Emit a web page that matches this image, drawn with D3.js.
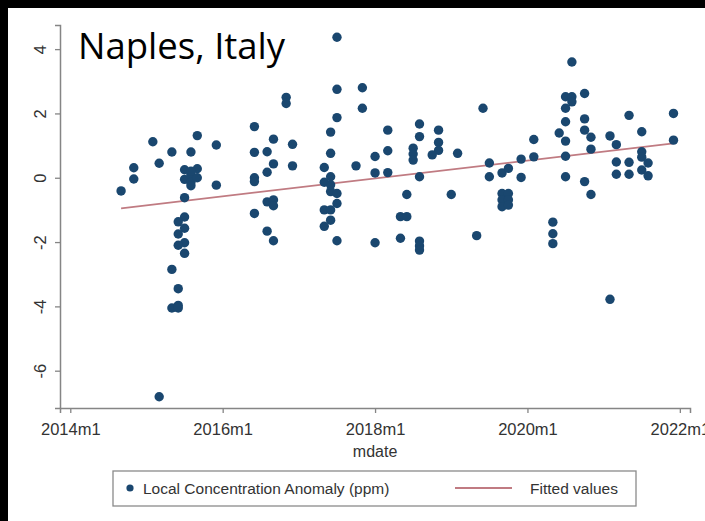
<!DOCTYPE html>
<html>
<head>
<meta charset="utf-8">
<script src="https://cdn.jsdelivr.net/npm/d3@7"></script>
<style>
  html, body { margin: 0; padding: 0; background: #000; }
  svg { display: block; }
</style>
</head>
<body>
<svg id="chart" width="705" height="521"></svg>
<script>
// Monthly local CO2 concentration anomaly (ppm), Naples
const obsDates = [
  "2014m9","2014m11","2014m11","2015m2","2015m3","2015m3","2015m5","2015m5","2015m5","2015m6",
  "2015m6","2015m6","2015m7","2015m7","2015m7","2015m8","2015m8","2015m8","2015m9","2015m9",
  "2015m8","2015m8","2015m9","2015m12","2015m12","2015m7","2015m6","2015m7","2015m6","2015m7",
  "2015m6","2015m7",
  "2016m6","2016m6","2016m6","2016m6","2016m6","2016m8","2016m9","2016m9","2016m8","2016m8",
  "2016m9","2016m9","2016m8","2016m9","2016m11","2016m11","2016m12","2016m12",
  "2017m7","2017m7","2017m7","2017m6","2017m6","2017m5","2017m6","2017m5","2017m6","2017m7",
  "2017m7","2017m5","2017m6","2017m6","2017m5","2017m7","2017m6",
  "2017m11","2017m11","2017m10","2018m1","2018m1","2018m1","2018m3","2018m3","2018m3",
  "2018m6","2018m5","2018m6","2018m5","2018m8","2018m8","2018m7","2018m7","2018m7","2018m8",
  "2018m8","2018m8","2018m8","2018m11","2018m11","2018m11","2018m10",
  "2019m2","2019m1","2019m5","2019m6","2019m7","2019m7","2019m9","2019m10",
  "2019m9","2019m10","2019m9","2019m10","2019m9","2019m10","2019m12","2019m12",
  "2020m2","2020m2","2020m5","2020m5","2020m5","2020m6",
  "2020m7","2020m7","2020m7","2020m7","2020m7","2020m7","2020m8","2020m8","2020m8",
  "2020m10","2020m10","2020m10","2020m10","2020m11","2020m11","2020m11",
  "2021m2","2021m2","2021m3","2021m3","2021m3","2021m5","2021m5","2021m5",
  "2021m7","2021m7","2021m7","2021m7","2021m8","2021m8","2021m12","2021m12"
];
const obsValues = [
  -0.41, 0.31, -0.04, 1.12, 0.45, -6.81, 0.80, -2.85, -4.05, -3.45,
  -3.97, -4.05, -0.62, 0.25, -0.05, 0.10, -0.15, -0.25, 0.28, 0.00,
  0.20, 0.80, 1.31, 1.02, -0.23, -1.22, -1.37, -1.57, -1.75, -2.02,
  -2.10, -2.35,
  1.59, 0.79, 0.00, -0.12, -1.11, 0.81, 1.20, 0.43, 0.17, -0.75,
  -0.69, -0.87, -1.66, -1.96, 2.50, 2.31, 1.04, 0.37,
  4.37, 2.75, 1.87, 1.42, 0.76, 0.32, 0.03, -0.14, -0.43, -0.49,
  -0.80, -1.00, -1.00, -1.32, -1.51, -1.96, -0.22,
  2.80, 2.16, 0.37, 0.66, 0.15, -2.02, 1.48, 0.84, 0.16,
  -0.52, -1.21, -1.21, -1.88, 1.67, 1.28, 0.92, 0.74, 0.55, 0.03,
  -1.97, -2.12, -2.25, 1.48, 1.10, 0.85, 0.71,
  0.76, -0.52, -1.80, 2.16, 0.46, 0.03, 0.15, 0.29,
  -0.49, -0.49, -0.69, -0.69, -0.90, -0.85, 0.58, 0.01,
  1.19, 0.65, -1.38, -1.74, -2.05, 1.39,
  1.74, 1.14, 0.67, 0.03, 2.52, 2.16, 3.60, 2.52, 2.36,
  2.62, 1.83, 1.48, -0.12, 1.26, 0.89, -0.52,
  1.30, -3.78, 1.03, 0.49, 0.11, 1.94, 0.48, 0.11,
  1.43, 0.81, 0.64, 0.24, 0.46, 0.06, 2.00, 1.17
];

// Linear fit, end points
const fitDates = ["2014m9", "2021m12"];
const fitValues = [-0.95, 1.07];

// Axis ticks
const xTickLabels = ["2014m1", "2016m1", "2018m1", "2020m1", "2022m1"];
const yTickValues = [-6, -4, -2, 0, 2, 4];

// Stata-style monthly date -> months since 2014m1
function monthIndex(s) {
  const [y, m] = s.split("m").map(Number);
  return (y - 2014) * 12 + (m - 1);
}

const svg = d3.select("#chart");
const W = 705, H = 521;

// Dark frame with white canvas
svg.append("rect").attr("width", W).attr("height", H).attr("fill", "#000");
svg.append("rect").attr("x", 8).attr("y", 8).attr("width", W - 8).attr("height", H - 8).attr("fill", "#fff");

const x = d3.scaleLinear().domain([-1.62, 97.6]).range([60, 690]);
const y = d3.scaleLinear().domain([-7.16, 4.75]).range([408, 25]);

const axisColor = "#858585";
const labelColor = "#333";
const font = "'Liberation Sans', Arial, Helvetica, sans-serif";

// Y axis (labels rotated, Stata default)
const yAxis = svg.append("g").attr("transform", "translate(60,0)")
  .call(d3.axisLeft(y).tickValues(yTickValues).tickSize(5).tickPadding(4).tickFormat(d3.format("d")));
yAxis.select(".domain").attr("stroke", axisColor).attr("stroke-width", 1.5);
yAxis.selectAll(".tick line").attr("stroke", axisColor).attr("stroke-width", 1.3);
yAxis.selectAll(".tick text")
  .attr("fill", labelColor).attr("font-family", font).attr("font-size", 16.5)
  .attr("x", null).attr("dy", null)
  .attr("text-anchor", "middle")
  .attr("transform", "translate(-20,0) rotate(-90)")
  .attr("dy", "0.36em")
  .text(d => d < 0 ? "-" + Math.abs(d) : d);

// X axis
const xAxis = svg.append("g").attr("transform", "translate(0,408)")
  .call(d3.axisBottom(x).tickValues(xTickLabels.map(monthIndex)).tickSize(5).tickPadding(10)
    .tickFormat((d, i) => xTickLabels[i]));
xAxis.select(".domain").attr("stroke", axisColor).attr("stroke-width", 1.5);
xAxis.selectAll(".tick line").attr("stroke", axisColor).attr("stroke-width", 1.3);
xAxis.selectAll(".tick text")
  .attr("fill", labelColor).attr("font-family", font).attr("font-size", 16.5);

// X axis title
svg.append("text").attr("x", x(monthIndex("2018m1"))).attr("y", 457)
  .attr("text-anchor", "middle").attr("fill", labelColor)
  .attr("font-family", font).attr("font-size", 16).text("mdate");

// Fitted line
const fitData = fitDates.map((d, i) => ({ m: monthIndex(d), v: fitValues[i] }));
svg.append("path").datum(fitData)
  .attr("fill", "none").attr("stroke", "#c07b82").attr("stroke-width", 1.8)
  .attr("d", d3.line().x(d => x(d.m)).y(d => y(d.v)));

// Observations
const obs = obsDates.map((d, i) => ({ m: monthIndex(d), v: obsValues[i] }));
svg.append("g").selectAll("circle").data(obs).join("circle")
  .attr("cx", d => x(d.m)).attr("cy", d => y(d.v))
  .attr("r", 4.7).attr("fill", "#1a476f");

// Title
svg.append("text").attr("x", 78).attr("y", 59)
  .attr("font-family", "'Open Sans', 'Noto Sans', sans-serif").attr("font-size", 36.5)
  .attr("fill", "#000").text("Naples, Italy");

// Legend
const lg = svg.append("g");
lg.append("rect").attr("x", 113).attr("y", 471).attr("width", 523).attr("height", 35)
  .attr("fill", "#fff").attr("stroke", "#8a8a8a").attr("stroke-width", 1.3);
lg.append("circle").attr("cx", 130).attr("cy", 488).attr("r", 3.6).attr("fill", "#1a476f");
lg.append("text").attr("x", 143).attr("y", 494).attr("font-family", font).attr("font-size", 15.5)
  .attr("fill", labelColor).text("Local Concentration Anomaly (ppm)");
lg.append("line").attr("x1", 455).attr("x2", 512).attr("y1", 488).attr("y2", 488)
  .attr("stroke", "#c07b82").attr("stroke-width", 1.8);
lg.append("text").attr("x", 530).attr("y", 494).attr("font-family", font).attr("font-size", 15.5)
  .attr("fill", labelColor).text("Fitted values");
</script>
</body>
</html>
